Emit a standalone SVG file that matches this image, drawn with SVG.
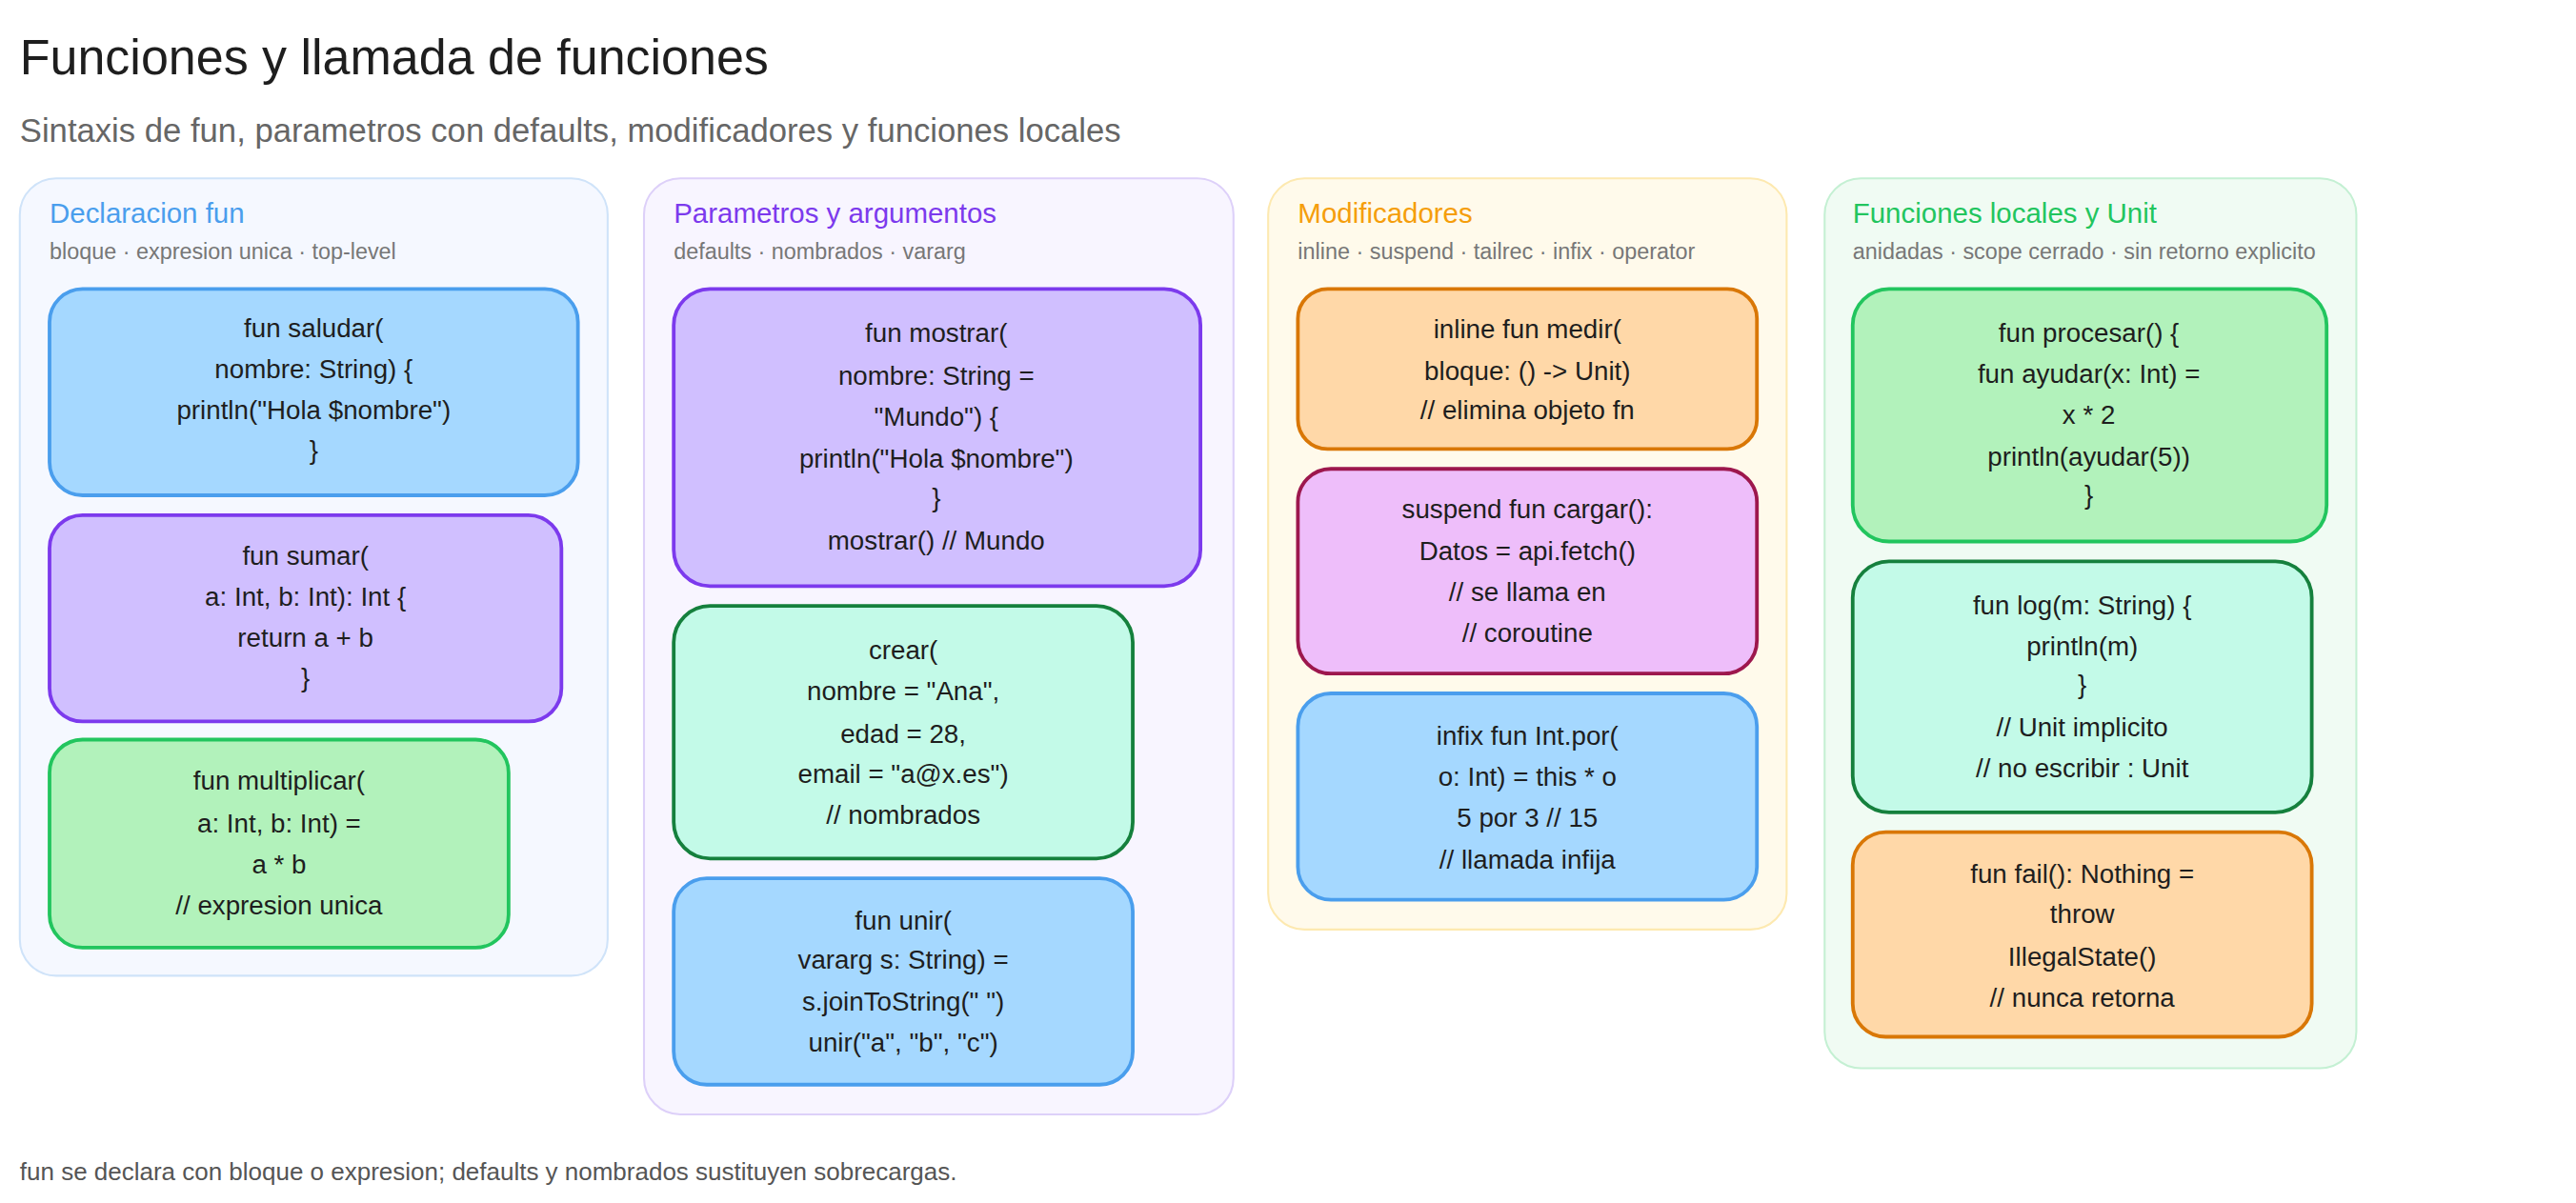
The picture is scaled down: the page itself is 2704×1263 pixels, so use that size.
<svg xmlns="http://www.w3.org/2000/svg" width="2704" height="1263" viewBox="0 0 2704 1263">
<style>
text{font-family:"Liberation Sans",Arial,sans-serif}
.t{font-size:30px;fill:#1e1e1e}
.s{font-size:20px;fill:#666}
.f{font-size:15px;fill:#555}
.pt{font-size:17px}
.ps{font-size:13.5px;fill:#777}
.n{font-size:16px;fill:#1e1e1e;text-anchor:middle}
.b{stroke-width:2.2}
.p{stroke-width:1.2}
</style>
<rect width="2704" height="1263" fill="#fff"/>
<g transform="scale(1.7333)">
<text class="t" x="12" y="45">Funciones y llamada de funciones</text>
<text class="s" x="12" y="86">Sintaxis de fun, parametros con defaults, modificadores y funciones locales</text>

<g id="panel-declaracion">
<rect class="p" x="12" y="108" width="356" height="483" rx="22" fill="#f5f8ff" stroke="#cfe3f9"/>
<text class="pt" x="30" y="135" fill="#4a9eed">Declaracion fun</text>
<text class="ps" x="30" y="157">bloque · expresion unica · top-level</text>
</g>
<g id="n1"><rect class="b" x="30" y="175" width="320" height="125" rx="20" fill="#a5d8ff" stroke="#4a9eed"/>
<text class="n" x="190"><tspan x="190" y="204">fun saludar(</tspan><tspan x="190" y="229">nombre: String) {</tspan><tspan x="190" y="254">println("Hola $nombre")</tspan><tspan x="190" y="278">}</tspan></text></g>
<g id="n2"><rect class="b" x="30" y="312" width="310" height="125" rx="20" fill="#d0bfff" stroke="#7c3aed"/>
<text class="n"><tspan x="185" y="342">fun sumar(</tspan><tspan x="185" y="367">a: Int, b: Int): Int {</tspan><tspan x="185" y="392">return a + b</tspan><tspan x="185" y="416">}</tspan></text></g>
<g id="n3"><rect class="b" x="30" y="448" width="278" height="126" rx="20" fill="#b2f2bb" stroke="#22c55e"/>
<text class="n"><tspan x="169" y="478">fun multiplicar(</tspan><tspan x="169" y="504">a: Int, b: Int) =</tspan><tspan x="169" y="529">a * b</tspan><tspan x="169" y="554">// expresion unica</tspan></text></g>

<g id="panel-parametros">
<rect class="p" x="390" y="108" width="357" height="567" rx="22" fill="#f8f5ff" stroke="#ddd0f9"/>
<text class="pt" x="408" y="135" fill="#7c3aed">Parametros y argumentos</text>
<text class="ps" x="408" y="157">defaults · nombrados · vararg</text>
</g>
<g id="n4"><rect class="b" x="408" y="175" width="319" height="180" rx="22" fill="#d0bfff" stroke="#7c3aed"/>
<text class="n"><tspan x="567" y="207">fun mostrar(</tspan><tspan x="567" y="233">nombre: String =</tspan><tspan x="567" y="258">"Mundo") {</tspan><tspan x="567" y="283">println("Hola $nombre")</tspan><tspan x="567" y="307">}</tspan><tspan x="567" y="333">mostrar() // Mundo</tspan></text></g>
<g id="n5"><rect class="b" x="408" y="367" width="278" height="153" rx="22" fill="#c3fae8" stroke="#15803d"/>
<text class="n"><tspan x="547" y="399">crear(</tspan><tspan x="547" y="424">nombre = "Ana",</tspan><tspan x="547" y="450">edad = 28,</tspan><tspan x="547" y="474">email = "a@x.es")</tspan><tspan x="547" y="499">// nombrados</tspan></text></g>
<g id="n6"><rect class="b" x="408" y="532" width="278" height="125" rx="20" fill="#a5d8ff" stroke="#4a9eed"/>
<text class="n"><tspan x="547" y="563">fun unir(</tspan><tspan x="547" y="587">vararg s: String) =</tspan><tspan x="547" y="612">s.joinToString(" ")</tspan><tspan x="547" y="637">unir("a", "b", "c")</tspan></text></g>

<g id="panel-modificadores">
<rect class="p" x="768" y="108" width="314" height="455" rx="22" fill="#fffaeb" stroke="#fde9b0"/>
<text class="pt" x="786" y="135" fill="#f59e0b">Modificadores</text>
<text class="ps" x="786" y="157">inline · suspend · tailrec · infix · operator</text>
</g>
<g id="n7"><rect class="b" x="786" y="175" width="278" height="97" rx="18" fill="#ffd8a8" stroke="#d97706"/>
<text class="n"><tspan x="925" y="205">inline fun medir(</tspan><tspan x="925" y="230">bloque: () -&gt; Unit)</tspan><tspan x="925" y="254">// elimina objeto fn</tspan></text></g>
<g id="n8"><rect class="b" x="786" y="284" width="278" height="124" rx="20" fill="#eebefa" stroke="#9d174d"/>
<text class="n"><tspan x="925" y="314">suspend fun cargar():</tspan><tspan x="925" y="339">Datos = api.fetch()</tspan><tspan x="925" y="364">// se llama en</tspan><tspan x="925" y="389">// coroutine</tspan></text></g>
<g id="n9"><rect class="b" x="786" y="420" width="278" height="125" rx="20" fill="#a5d8ff" stroke="#4a9eed"/>
<text class="n"><tspan x="925" y="451">infix fun Int.por(</tspan><tspan x="925" y="476">o: Int) = this * o</tspan><tspan x="925" y="501">5 por 3 // 15</tspan><tspan x="925" y="526">// llamada infija</tspan></text></g>

<g id="panel-locales">
<rect class="p" x="1105" y="108" width="322" height="539" rx="22" fill="#f0fbf3" stroke="#c4f0d3"/>
<text class="pt" x="1122" y="135" fill="#22c55e">Funciones locales y Unit</text>
<text class="ps" x="1122" y="157">anidadas · scope cerrado · sin retorno explicito</text>
</g>
<g id="n10"><rect class="b" x="1122" y="175" width="287" height="153" rx="22" fill="#b2f2bb" stroke="#22c55e"/>
<text class="n"><tspan x="1265" y="207">fun procesar() {</tspan><tspan x="1265" y="232">fun ayudar(x: Int) =</tspan><tspan x="1265" y="257">x * 2</tspan><tspan x="1265" y="282">println(ayudar(5))</tspan><tspan x="1265" y="305">}</tspan></text></g>
<g id="n11"><rect class="b" x="1122" y="340" width="278" height="152" rx="22" fill="#c3fae8" stroke="#15803d"/>
<text class="n"><tspan x="1261" y="372">fun log(m: String) {</tspan><tspan x="1261" y="397">println(m)</tspan><tspan x="1261" y="420">}</tspan><tspan x="1261" y="446">// Unit implicito</tspan><tspan x="1261" y="471">// no escribir : Unit</tspan></text></g>
<g id="n12"><rect class="b" x="1122" y="504" width="278" height="124" rx="20" fill="#ffd8a8" stroke="#d97706"/>
<text class="n"><tspan x="1261" y="535">fun fail(): Nothing =</tspan><tspan x="1261" y="559">throw</tspan><tspan x="1261" y="585">IllegalState()</tspan><tspan x="1261" y="610">// nunca retorna</tspan></text></g>

<g id="connectors"></g>
<text class="f" x="12" y="715">fun se declara con bloque o expresion; defaults y nombrados sustituyen sobrecargas.</text>
</g>
</svg>
